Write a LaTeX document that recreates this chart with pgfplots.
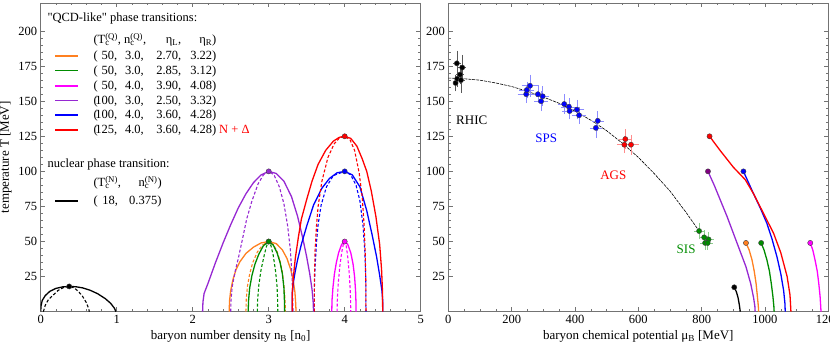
\documentclass[border=0pt]{standalone}
\usepackage{fontspec}
\setmainfont{Liberation Serif}[Ligatures=TeXOff]
\usepackage{pgfplots}
\pgfplotsset{compat=1.18}

\definecolor{cOrange}{RGB}{255,128,32}
\definecolor{cGreen}{RGB}{0,140,0}
\definecolor{cMagenta}{RGB}{255,0,255}
\definecolor{cPurple}{RGB}{150,40,210}
\definecolor{cDkPurple}{RGB}{128,0,128}
\definecolor{cBlue}{RGB}{0,0,255}
\definecolor{cRed}{RGB}{255,0,0}
\definecolor{frame}{RGB}{115,115,115}

\newcommand{\scs}[2]{\rlap{\textsubscript{#1}}\textsuperscript{#2}}

\pgfplotsset{
  sol/.style={line width=1.3pt},
  das/.style={line width=1.1pt, dash pattern=on 3pt off 2pt},
  dot/.style={only marks, mark=*, mark size=2.6pt,
    mark options={draw=black!75, line width=0.4pt, fill=#1}},
  tp/.style={
  scale only axis, width=380pt, height=308.7pt,
  ymin=0, ymax=220, ytick={25,50,...,200}, minor y tick num=4,
  tick align=inside, major tick length=4.5pt, minor tick length=2.5pt,
  axis line style={frame, line width=0.8pt},
  every tick/.style={frame, line width=0.6pt},
  /pgf/number format/assume math mode=true,
  /pgf/number format/set thousands separator={},
  every tick label/.append style={font=\fontsize{12.5}{14}\selectfont},
  label style={font=\fontsize{13}{15}\selectfont},
}}

\begin{document}
\begin{tikzpicture}[x=1pt,y=1pt]
% ---------------- left: T vs n_B ----------------
\begin{axis}[tp, at={(40.7pt,40.3pt)}, anchor=south west,
  xmin=0, xmax=5, xtick={0,...,5}, minor x tick num=4,
  xlabel={baryon number density n\textsubscript{B} [n\textsubscript{0}]},
  ylabel={temperature T [MeV]}]
% nuclear
\addplot[sol, black] coordinates {(0,0) (0.004,4) (0.02,8) (0.06,11.5) (0.12,14.5) (0.2,16.6) (0.29,17.7) (0.375,18) (0.46,17.8) (0.55,17) (0.65,15.3) (0.75,12.8) (0.85,9.3) (0.92,6) (0.97,2.5) (0.99,0)};
\addplot[das, black] coordinates {(0.035,0) (0.06,4.5) (0.1,8.5) (0.167,12) (0.23,15.2) (0.3,17.2) (0.375,18) (0.44,17) (0.495,14.5) (0.55,11) (0.6,6.5) (0.63,2.5) (0.64,0)};
% orange
\addplot[sol, cOrange] coordinates {(2.48,0) (2.485,8) (2.5,15) (2.53,23) (2.57,30) (2.62,35.5) (2.7,41.5) (2.8,46) (2.9,49) (3.0,50) (3.1,48.5) (3.18,44) (3.24,38) (3.29,30) (3.32,23) (3.345,14) (3.355,6) (3.36,0)};
\addplot[das, cOrange] coordinates {(2.70,0) (2.705,9) (2.72,18) (2.75,27) (2.79,35) (2.85,42.5) (2.92,47.5) (3.0,50) (3.06,48) (3.11,43) (3.15,36) (3.18,28) (3.2,19) (3.215,9) (3.22,0)};
% green
\addplot[sol, cGreen] coordinates {(2.73,0) (2.735,8) (2.75,17) (2.78,26) (2.82,34) (2.87,41) (2.93,47) (3.0,50) (3.06,47.5) (3.11,42) (3.15,35) (3.18,27) (3.2,17) (3.207,8) (3.21,0)};
\addplot[das, cGreen] coordinates {(2.85,0) (2.855,9) (2.87,19) (2.9,30) (2.94,40) (2.97,46.5) (3.0,50) (3.03,47) (3.06,40) (3.09,29) (3.11,18) (3.117,9) (3.12,0)};
% magenta
\addplot[sol, cMagenta] coordinates {(3.83,0) (3.833,8) (3.845,17) (3.865,27) (3.89,35) (3.92,42) (3.96,48) (4.0,50) (4.04,48) (4.08,42) (4.11,34) (4.13,25) (4.143,15) (4.148,7) (4.15,0)};
\addplot[das, cMagenta] coordinates {(3.90,0) (3.903,9) (3.915,20) (3.935,32) (3.96,42) (3.98,47.5) (4.0,50) (4.02,47) (4.04,39) (4.06,27) (4.072,16) (4.078,7) (4.08,0)};
% purple
\addplot[sol, cPurple] coordinates {(2.13,0) (2.135,7) (2.15,13) (2.2,20) (2.3,35) (2.4,49) (2.5,62) (2.6,74) (2.7,84) (2.8,92) (2.9,97.5) (3.0,100) (3.1,98.5) (3.2,93) (3.3,82) (3.38,68) (3.45,52) (3.5,39) (3.54,27) (3.57,16) (3.585,7) (3.59,0)};
\addplot[das, cPurple] coordinates {(2.50,0) (2.505,9) (2.52,18) (2.56,29) (2.6,38) (2.66,53) (2.71,66) (2.78,79) (2.86,91) (2.93,97.5) (3.0,100) (3.07,97.5) (3.14,89) (3.2,77) (3.25,61) (3.285,44) (3.305,27) (3.315,13) (3.32,0)};
% blue
\addplot[sol, cBlue] coordinates {(3.31,0) (3.31,13) (3.325,21) (3.35,29) (3.38,37) (3.43,48) (3.5,61) (3.59,76) (3.7,88) (3.8,95) (3.9,99) (4.0,100) (4.1,97.5) (4.2,89) (4.29,72) (4.36,55) (4.42,39) (4.46,26) (4.49,15) (4.5,8) (4.5,0)};
\addplot[das, cBlue] coordinates {(3.60,0) (3.60,15) (3.61,32) (3.63,50) (3.65,62) (3.69,76) (3.76,89) (3.85,97) (4.0,100) (4.08,97.5) (4.15,90) (4.2,79) (4.24,62) (4.265,43) (4.277,24) (4.28,0)};
% red
\addplot[sol, cRed] coordinates {(3.31,0) (3.31,13) (3.325,25) (3.35,38) (3.39,53) (3.43,66) (3.5,80) (3.57,93) (3.65,105) (3.75,115) (3.85,121.5) (3.93,124.3) (4.0,125) (4.08,123.5) (4.16,118) (4.23,109) (4.29,100) (4.35,86) (4.41,68) (4.46,48) (4.485,30) (4.497,15) (4.5,0)};
\addplot[das, cRed] coordinates {(3.60,0) (3.60,20) (3.61,44) (3.63,62) (3.65,75) (3.7,93) (3.78,110) (3.86,119.5) (3.93,123.8) (4.0,125) (4.07,122.5) (4.13,115) (4.19,99) (4.23,82) (4.255,62) (4.27,42) (4.278,20) (4.28,0)};
% critical points
\addplot[dot=black] coordinates {(0.375,18)};
\addplot[dot=cOrange] coordinates {(3,50)};
\addplot[dot=cGreen] coordinates {(3,50)};
\addplot[dot=cMagenta] coordinates {(4,50)};
\addplot[dot=cPurple] coordinates {(3,100)};
\addplot[dot=cBlue] coordinates {(4,100)};
\addplot[dot=cRed] coordinates {(4,125)};
\end{axis}

% ---------------- right: T vs mu_B ----------------
\begin{axis}[tp, at={(448.3pt,40.3pt)}, anchor=south west,
  xmin=0, xmax=1200, xtick={0,200,...,1200}, minor x tick num=3,
  xlabel={baryon chemical potential μ\textsubscript{B} [MeV]}]
% freeze-out curve
\addplot[black, line width=0.6pt, dash pattern=on 3pt off 1pt] coordinates {(0,166.5) (50,166) (100,165) (150,163) (200,160.5) (250,157) (300,153) (350,148.5) (400,143) (450,136.5) (500,129) (550,120) (600,110) (650,98.5) (700,86) (750,71) (792,57.5)};
% transition lines
\addplot[sol, black] coordinates {(903,17.4) (910,14) (915,10) (919,5) (922,0)};
\addplot[sol, cPurple] coordinates {(820,100) (840,90) (860,79) (880,68) (900,56) (920,44) (940,32) (955,20) (964,10) (968,4) (969,0)};
\addplot[sol, cOrange] coordinates {(940,49) (950,44) (959,37) (966,29) (972,20) (976,11) (979,4) (980,0)};
\addplot[sol, cGreen] coordinates {(988,49) (997,44) (1006,37) (1014,29) (1020,20) (1025,11) (1028,4) (1029,0)};
\addplot[sol, cBlue] coordinates {(932,100) (950,91) (964,84) (985,74) (1006,63) (1022,52) (1038,39) (1050,27) (1059,15) (1063,6) (1064,0)};
\addplot[sol, cRed] coordinates {(825,125) (858,115) (900,103) (938,94) (964,84) (1000,68) (1027,56) (1050,42) (1070,25) (1079,12) (1082,0)};
\addplot[sol, cMagenta] coordinates {(1143,49) (1151,44) (1158,37) (1165,29) (1170,20) (1174,11) (1176,4) (1177,0)};
\addplot[dot=black] coordinates {(903,17.4)};
\addplot[dot=cDkPurple] coordinates {(820,100)};
\addplot[dot=cOrange] coordinates {(940,49)};
\addplot[dot=cGreen] coordinates {(988,49)};
\addplot[dot=cBlue] coordinates {(932,100)};
\addplot[dot=cRed] coordinates {(825,125)};
\addplot[dot=cMagenta] coordinates {(1143,49)};
% freeze-out data
\addplot[dot=black, error bars/.cd, x dir=both, x explicit, y dir=both, y explicit,
  error bar style={black!65, line width=0.6pt}, error mark options={black!65, mark size=2.8pt, line width=0.6pt}]
  table[x=x, y=y, x error=ex, y error=ey] {
x y ex ey
23 163 0 4
27 177 3 7
28 166 0 4
37 169 3 5
40 165 3 7
44 174 3 7
};
\addplot[dot=cBlue, error bars/.cd, x dir=both, x explicit, y dir=both, y explicit,
  error bar style={cBlue!45, line width=0.6pt}, error mark options={cBlue!45, mark size=2.8pt, line width=0.6pt}]
  table[x=x, y=y, x error=ex, y error=ey] {
x y ex ey
246 155 18 4
248 158 15 4
258 161 18 6
283 155 15 4
293 150 12 5
298 153.5 12 5
366 148 12 5
381 146 15 4
383 143 15 4
406 144 15 5
413 140 12 4
466 131 10 5
472 136 10 5
};
\addplot[dot=cRed, error bars/.cd, x dir=both, x explicit, y dir=both, y explicit,
  error bar style={cRed!45, line width=0.6pt}, error mark options={cRed!45, mark size=2.8pt, line width=0.6pt}]
  table[x=x, y=y, x error=ex, y error=ey] {
x y ex ey
556 119 15 4
559 123 12 5
577 119 15 5
};
\addplot[dot=cGreen, error bars/.cd, x dir=both, x explicit, y dir=both, y explicit,
  error bar style={cGreen!45, line width=0.6pt}, error mark options={cGreen!45, mark size=2.8pt, line width=0.6pt}]
  table[x=x, y=y, x error=ex, y error=ey] {
x y ex ey
792 57.5 6 4
808 53 8 3
822 51.5 8 3
811 49 6 3
819 49 8 3
};
\node[font=\fontsize{13}{15}\selectfont] at (axis cs:74,136.6) {RHIC};
\node[font=\fontsize{13}{15}\selectfont, text=cBlue] at (axis cs:309,123.6) {SPS};
\node[font=\fontsize{13}{15}\selectfont, text=cRed] at (axis cs:521,97) {AGS};
\node[font=\fontsize{13}{15}\selectfont, text=cGreen] at (axis cs:751,44.7) {SIS};
\end{axis}

% ---------------- legend ----------------
\begin{scope}[every node/.style={inner sep=0pt, font=\fontsize{12.5}{14}\selectfont}]
\node[anchor=base west] at (47.3,330) {\symbol{34}QCD-like\symbol{34} phase transitions:};
\node[anchor=base west] at (93.3,308) {(T\scs{c}{(Q)}, n\scs{c}{(Q)},};
\node[anchor=base east] at (181.5,308) {η\textsubscript{L},};
\node[anchor=base east] at (216.5,308) {η\textsubscript{R})};
\foreach \y/\c/\a/\b/\l/\r in {292/cOrange/50/3.0/2.70/3.22, 277.3/cGreen/50/3.0/2.85/3.12,
  262/cMagenta/50/4.0/3.90/4.08, 247.3/cPurple/100/3.0/2.50/3.32,
  233/cBlue/100/4.0/3.60/4.28, 218/cRed/125/4.0/3.60/4.28}{
  \draw[\c, line width=1.3pt] (55,\y+4) -- (78.3,\y+4);
  \node[anchor=base west] at (93.3,\y) {(};
  \node[anchor=base east] at (117.5,\y) {\a,};
  \node[anchor=base east] at (144,\y) {\b,};
  \node[anchor=base east] at (181.5,\y) {\l,};
  \node[anchor=base east] at (216.5,\y) {\r)};
}
\node[anchor=base west, text=cRed] at (219,218) {N + Δ};
\node[anchor=base west] at (47.3,184) {nuclear phase transition:};
\node[anchor=base west] at (93.3,165) {(T\scs{c}{(N)},};
\node[anchor=base east] at (162,165) {n\scs{c}{(N)})};
\draw[black, line width=1.3pt] (55,151) -- (78.3,151);
\node[anchor=base west] at (93.3,147) {(};
\node[anchor=base east] at (118.3,147) {18,};
\node[anchor=base east] at (161.7,147) {0.375)};
\end{scope}

\pgfresetboundingbox
\path[use as bounding box] (0,0) rectangle (830,352);
\end{tikzpicture}
\end{document}
